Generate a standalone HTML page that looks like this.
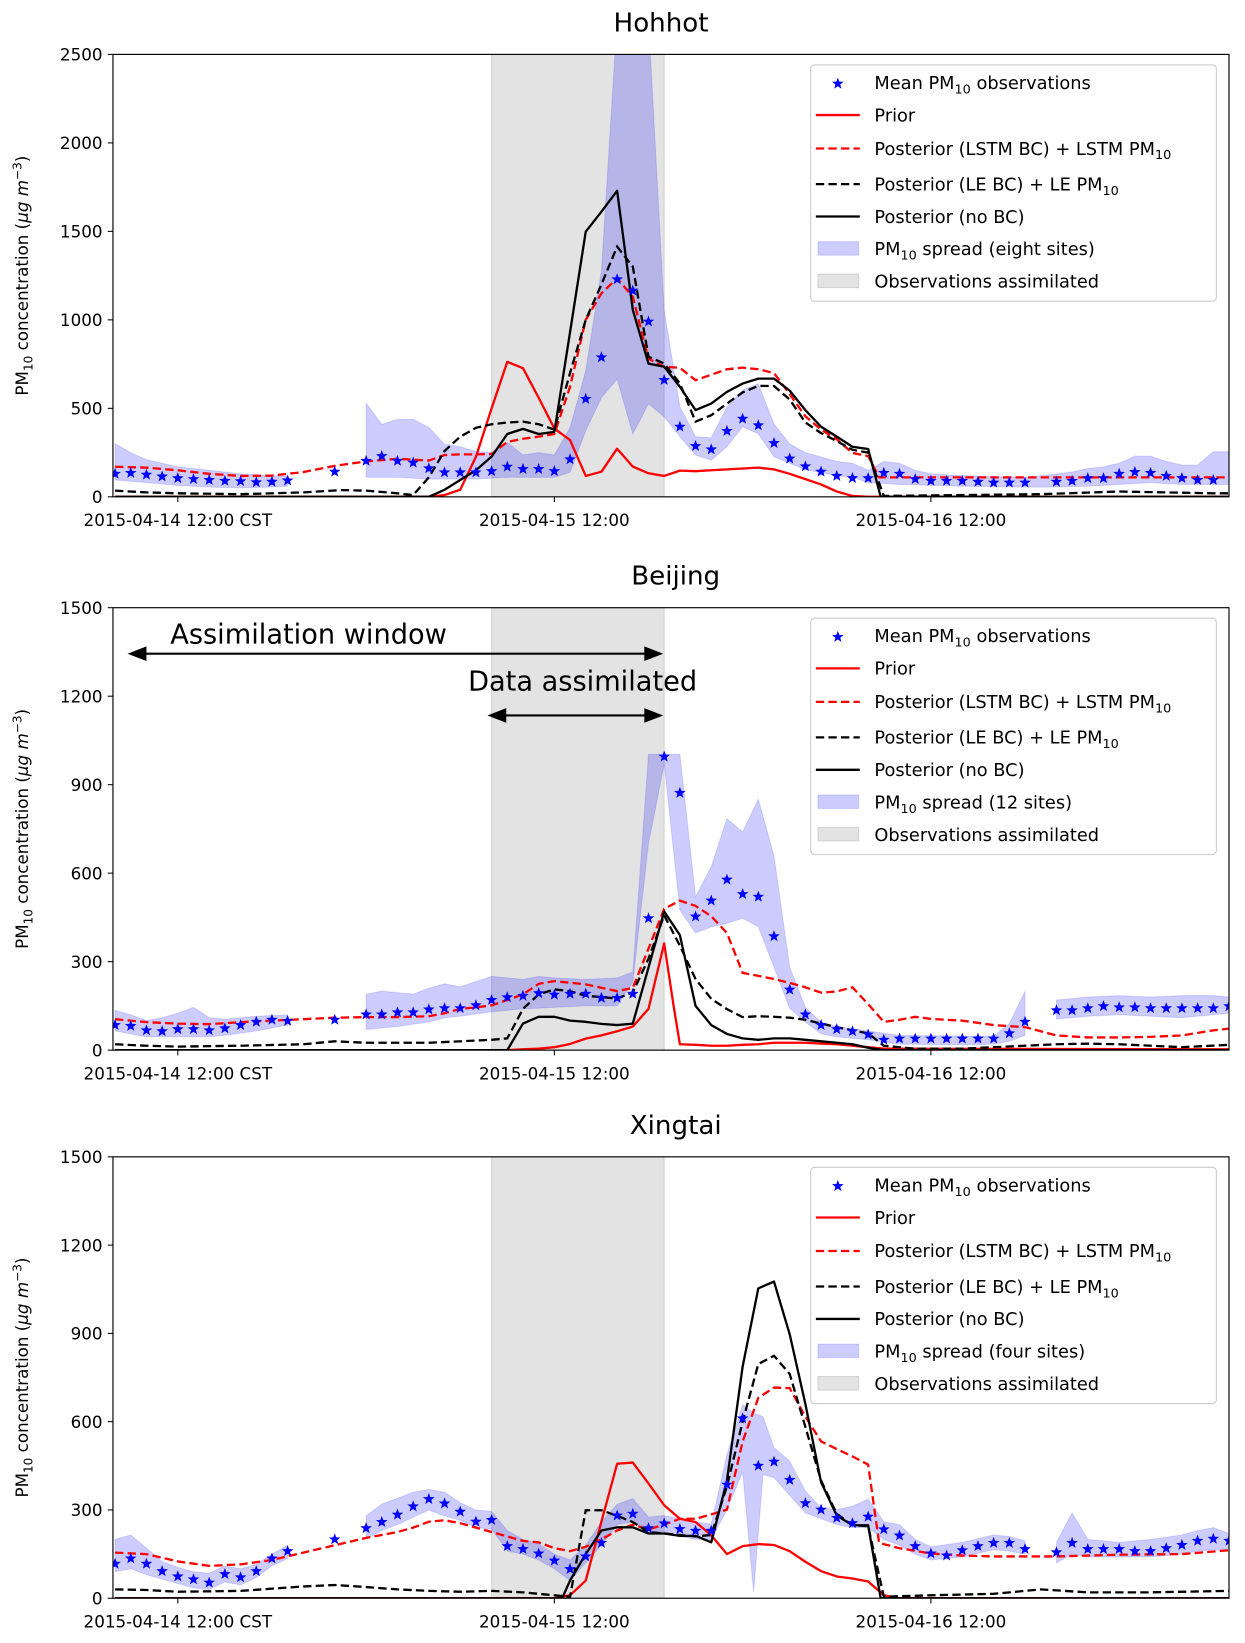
<!DOCTYPE html>
<html><head><meta charset="utf-8">
<style>
html,body{margin:0;padding:0;background:#fff;}
svg{display:block;}
text{font-family:"DejaVu Sans","Liberation Sans",sans-serif;fill:#000;}
</style></head>
<body>
<svg id="chart" xmlns="http://www.w3.org/2000/svg" width="1245" height="1643" viewBox="0 0 1190.3 1570.8" preserveAspectRatio="none"></svg>
<script>
// ---------- DATA (t = hours from 2015-04-14 12:00 CST; obs hourly from t=-4) ----------
const obsStart = -4;
const xTickHours = [0, 24, 48];
const xTickLabels = ["2015-04-14 12:00 CST", "2015-04-15 12:00", "2015-04-16 12:00"];
const assimStart = 20, assimEnd = 31;

// Hohhot
const hohObs = [130,135,125,115,105,100,95,90,88,82,85,92,null,null,142,null,
 203,230,203,193,161,138,138,138,145,170,157,157,145,212,553,788,1229,1165,990,660,396,287,268,372,441,404,304,216,172,142,118,106,
 105,135,130,100,90,90,90,85,80,80,80,null,85,90,105,105,130,140,135,118,106,95,95,null];
const hohBandT  = [-4,-3,-2,-1,0,2,4,6,7,null,12,13,14,15,16,17,18,19,20,21,22,23,24,25,26,27,28,29,30,31,32,33,34,35,36,37,38,39,40,41,42,43,44,45,46,47,48,50,52,54,56,57,58,59,60,61,62,63,64,65,66,67];
const hohBandHi = [300,250,210,190,170,150,130,120,115,null,530,410,438,438,392,298,283,257,250,307,237,250,237,392,713,1278,2700,2700,2700,1055,509,340,333,508,603,638,412,299,250,225,200,190,150,200,190,150,130,120,115,110,130,140,160,170,190,230,230,200,180,180,255,255];
const hohBandLo = [95,88,80,72,65,55,50,55,60,null,110,110,110,105,100,100,100,100,105,110,110,110,110,138,373,560,665,355,525,452,340,236,207,283,396,356,226,189,154,136,119,110,80,75,70,68,65,60,58,55,55,58,60,65,70,75,80,75,70,70,70,70];
const hohPriorT = [-4,16,17,18,19,20,21,22,23,24,25,26,27,28,29,30,31,32,33,34,35,36,37,38,39,40,41,42,43,44,67];
const hohPrior  = [0,0,10,40,226,500,763,727,560,386,321,118,142,272,171,133,118,148,145,150,155,160,165,155,130,100,70,30,5,0,0];
const hohLstmT = [-4,-2,0,2,4,6,8,10,12,14,16,17,18,19,20,21,22,23,24,25,26,27,28,29,30,31,32,33,34,35,36,37,38,39,40,41,42,43,44,44.7,45,67];
const hohLstm  = [170,165,150,130,118,120,140,175,200,215,205,236,240,240,242,310,328,340,355,622,1000,1150,1235,1130,781,735,729,659,690,721,730,721,699,580,455,380,325,248,230,110,110,110];
const hohLeT = [-4,-2,0,4,8,10.4,12,14,15,16,17,18,19,20,21,22,23,24,25,26,27,28,29,30,31,32,33,34,35,36,37,38,39,40,41,42,43,44,45,50,55,60,66,67];
const hohLe  = [35,25,20,15,25,38,35,20,10,110,259,340,390,410,420,425,410,380,700,1000,1200,1414,1301,792,753,641,425,461,527,590,627,626,550,420,360,315,266,250,5,10,15,30,20,20];
const hohNoT = [-4,16,17,18,19,20,21,22,23,24,25,26,27,28,29,30,31,32,33,34,35,36,37,38,39,40,41,42,43,44,44.8,67];
const hohNo  = [0,0,40,95,150,227,355,384,355,367,930,1498,1611,1729,1056,753,735,622,490,527,593,640,668,668,600,490,396,340,283,270,0,0];

// Beijing
const bjObs = [85,82,67,64,71,71,67,74,85,96,103,99,null,null,103,null,
 121,121,128,128,138,142,142,152,170,179,184,193,188,191,191,177,177,191,447,995,872,453,507,578,529,520,386,205,
 121,85,71,64,53,35,39,39,39,39,39,39,39,57,96,null,
 135,135,142,149,145,145,142,142,142,142,142,149];
const bjBandT  = [-4,-3,-2,-1,0,1,2,3,5,7,null,12,13,14,15,16,17,18,20,22,23,24,26,28,29,30,31,32,33,34,35,36,37,38,39,40,41,42,44,46,50,52,53,54,null,56,58,60,62,64,66,67];
const bjBandHi = [135,120,100,110,125,145,110,105,115,120,null,190,200,195,190,210,225,215,250,240,250,245,240,245,265,1003,1003,1003,520,622,785,740,851,658,281,145,95,80,65,50,48,48,90,200,null,170,180,185,180,185,185,180];
const bjBandLo = [65,55,45,45,45,45,45,50,65,85,null,70,75,80,88,95,110,115,130,140,142,145,150,150,230,700,970,475,397,418,430,447,418,281,142,95,55,45,35,20,18,20,30,50,null,105,115,120,115,110,120,125];
const bjPriorT = [-4,21,22,23,24,25,26,27,28,29,30,31,31.6,32,33,34,35,36,37,38,39,40,41,42,43,44,45,67];
const bjPrior  = [0,0,3,5,10,21,39,50,64,80,140,362,150,20,18,15,15,18,20,25,25,25,22,20,15,10,5,3];
const bjLstmT = [-4,-2,0,2,4,6,8,10,12,14,16,17,18,19,20,21,22,23,24,26,28,29,30,31,32,33,34,35,36,37,38,39,40,41,42,43,44,45,46,47,48,50,52,54,56,58,60,62,64,66,67];
const bjLstm  = [105,95,90,88,95,100,105,110,112,112,115,125,140,145,152,170,189,225,234,223,200,211,344,479,507,489,454,397,262,252,241,228,213,195,199,213,156,96,103,113,106,100,85,78,50,43,43,45,50,67,73];
const bjLeT = [-4,-2,0,4,8,10,12,16,20,21,22,23,24,25,26,27,28,29,30,31,32,33,34,35,36,37,38,39,40,41,42,43,44,45,47,50,52,56,58,60,64,67];
const bjLe  = [20,15,12,15,20,30,25,25,35,40,140,189,206,200,184,180,175,196,310,457,354,241,174,139,112,115,113,110,103,90,78,67,57,15,5,5,10,20,22,20,10,18];
const bjNoT = [-4,21,22,23,24,25,26,27,28,29,30,31,32,33,34,35,36,37,38,39,40,41,42,43,44,45,67];
const bjNo  = [0,0,90,113,113,100,96,89,85,90,280,470,390,150,85,55,40,35,40,40,35,30,25,20,8,0,0];

// Xingtai
const xtObs = [117,135,117,92,74,64,53,82,71,92,135,160,null,null,200,null,
 238,259,284,312,337,322,294,260,266,177,167,152,128,99,142,188,281,287,238,254,235,229,229,386,611,450,464,402,323,301,273,255,277,
 234,213,177,152,145,163,177,188,188,167,null,
 156,188,167,167,167,160,160,170,181,195,202,195];
const xtBandT  = [-4,-3,-2,-1,0,1,2,3,4,5,6,7,null,12,13,14,15,16,17,18,19,20,21,22,23,24,25,26,27,28,29,30,31,32,33,34,35,36,36.7,37.3,38,39,40,41,42,43,44,45,46,47,48,50,52,53,54,null,56,57,58,60,62,64,65,66,67];
const xtBandHi = [200,215,170,125,105,90,85,110,100,115,150,180,null,280,320,340,360,370,360,325,300,295,230,200,185,150,130,180,260,319,339,276,281,270,259,252,488,658,630,617,512,466,364,307,301,313,337,260,250,200,175,190,215,210,195,null,190,290,200,190,200,215,230,240,220];
const xtBandLo = [90,100,80,65,50,35,30,55,45,70,110,135,null,200,230,250,275,300,280,265,240,235,160,150,130,100,60,120,180,250,260,220,225,210,200,200,300,430,20,420,410,350,290,270,250,240,240,200,180,150,130,140,165,160,150,null,120,150,140,140,140,150,160,165,165];
const xtPriorT = [-4,24,25,26,27,28,29,30,31,32,33,34,35,36,37,38,39,40,41,42,43,44,45,46,67];
const xtPrior  = [0,0,10,60,260,457,461,390,316,270,259,214,150,177,184,181,160,124,92,74,67,57,10,0,0];
const xtLstmT = [-4,-2,0,2,4,6,8,10,12,14,15,16,17,18,19,20,21,22,23,24,25,26,27,28,29,30,31,32,33,34,35,36,37,38,39,40,41,42,43,44,44.7,46,48,50,52,54,56,60,64,67];
const xtLstm  = [155,150,125,110,115,130,155,180,205,225,240,260,265,255,240,225,210,195,190,170,160,175,200,230,250,234,250,270,270,285,301,533,681,716,714,617,533,507,482,454,188,170,152,145,142,142,142,148,150,163];
const xtLeT = [-4,-2,0,4,8,10,12,14,16,18,20,22,24,25,26,27,28,29,30,31,32,33,34,35,36,37,38,39,40,41,42,43,44,45,48,52,55,58,62,67];
const xtLe  = [30,28,22,25,40,45,38,30,25,22,25,20,10,5,299,299,280,259,225,220,215,210,215,380,600,796,824,762,582,400,287,248,245,5,10,15,30,20,20,25];
const xtNoT = [-4,24.5,25,26,27,28,29,30,31,32,33,34,35,36,37,38,39,40,41,42,43,44,44.8,67];
const xtNo  = [0,0,60,150,230,241,241,220,220,212,212,190,400,787,1053,1076,897,660,394,281,248,248,0,0];

const yTicksHoh = [0,500,1000,1500,2000,2500];
const yTicksBj  = [0,300,600,900,1200,1500];
const yTicksXt  = [0,300,600,900,1200,1500];

// ---------- RENDERING ----------
const NS = 'http://www.w3.org/2000/svg';
const svg = document.getElementById('chart');
function mk(tag, attrs, parent){ const e=document.createElementNS(NS,tag); for(const k in attrs) e.setAttribute(k, attrs[k]); (parent||svg).appendChild(e); return e; }
const X0 = 108, X1 = 1175;
const xs = t => 170 + 15*t;

function linePath(T, V, ys){
  let d='', pen=false;
  for(let i=0;i<T.length;i++){
    if(T[i]===null || V[i]===null){ pen=false; continue; }
    d += (pen?'L':'M') + xs(T[i]).toFixed(2) + ',' + ys(V[i]).toFixed(2);
    pen=true;
  }
  return d;
}
function bandPaths(T, lo, hi, ys){
  const segs=[]; let cur=[];
  for(let i=0;i<T.length;i++){
    if(T[i]===null){ if(cur.length) segs.push(cur); cur=[]; continue; }
    cur.push(i);
  }
  if(cur.length) segs.push(cur);
  return segs.map(s=>{
    let d='';
    s.forEach((i,k)=>{ d += (k?'L':'M') + xs(T[i]).toFixed(2)+','+ys(hi[i]).toFixed(2); });
    for(let k=s.length-1;k>=0;k--){ const i=s[k]; d += 'L'+xs(T[i]).toFixed(2)+','+ys(lo[i]).toFixed(2); }
    return d+'Z';
  });
}
function starPath(cx, cy, r){
  let d='';
  for(let i=0;i<10;i++){
    const rr = i%2? r*0.42 : r;
    const a = -Math.PI/2 + i*Math.PI/5;
    d += (i?'L':'M') + (cx+rr*Math.cos(a)).toFixed(2)+','+(cy+rr*Math.sin(a)).toFixed(2);
  }
  return d+'Z';
}
function addText(parent, x, y, parts, size, anchor){
  const t = mk('text', {x:x, y:y, 'font-size':size, 'text-anchor':anchor||'start'}, parent);
  parts.forEach(p=>{
    const s = mk('tspan', {}, t);
    if(p.sub){ s.setAttribute('font-size', size*0.72); s.setAttribute('dy', size*0.25); }
    if(p.sup){ s.setAttribute('font-size', size*0.72); s.setAttribute('dy', -size*0.4); }
    if(p.back){ s.setAttribute('dy', p.back); }
    if(p.it){ s.setAttribute('font-style','italic'); }
    s.textContent = p.s;
  });
  return t;
}

const panels = [
 {key:'hohhot', title:'Hohhot', titleX:632, top:52, bottom:475, ymax:2500, ticks:yTicksHoh, obs:hohObs,
  bT:hohBandT, bLo:hohBandLo, bHi:hohBandHi, pT:hohPriorT, p:hohPrior, lT:hohLstmT, l:hohLstm, eT:hohLeT, e:hohLe, nT:hohNoT, n:hohNo, sites:'(eight sites)'},
 {key:'beijing', title:'Beijing', titleX:646, top:581, bottom:1004, ymax:1500, ticks:yTicksBj, obs:bjObs,
  bT:bjBandT, bLo:bjBandLo, bHi:bjBandHi, pT:bjPriorT, p:bjPrior, lT:bjLstmT, l:bjLstm, eT:bjLeT, e:bjLe, nT:bjNoT, n:bjNo, sites:'(12 sites)'},
 {key:'xingtai', title:'Xingtai', titleX:646, top:1106, bottom:1528, ymax:1500, ticks:yTicksXt, obs:xtObs,
  bT:xtBandT, bLo:xtBandLo, bHi:xtBandHi, pT:xtPriorT, p:xtPrior, lT:xtLstmT, l:xtLstm, eT:xtLeT, e:xtLe, nT:xtNoT, n:xtNo, sites:'(four sites)'}
];

const defs = mk('defs', {});
panels.forEach((P, pi)=>{
  const ys = v => P.bottom - v*(P.bottom-P.top)/P.ymax;
  const g = mk('g', {});
  
  
  const cp = mk('clipPath', {id:'clip'+pi}, defs);
  mk('rect', {x:X0, y:P.top, width:X1-X0, height:P.bottom-P.top}, cp);

  const title = addText(g, P.titleX, P.top-22, [{s:P.title}], 25, 'middle');
  
  

  const plot = mk('g', {'clip-path':'url(#clip'+pi+')'}, g);
  const gray = mk('rect', {x:xs(assimStart), y:P.top, width:xs(assimEnd)-xs(assimStart), height:P.bottom-P.top, fill:'rgba(128,128,128,0.22)', stroke:'rgba(128,128,128,0.25)'}, plot);
  
  
  bandPaths(P.bT, P.bLo, P.bHi, ys).forEach(d=>{
    const b = mk('path', {d:d, fill:'rgba(0,0,255,0.2)', stroke:'rgba(0,0,255,0.12)', 'stroke-width':1}, plot);
    
    
  });
  const lp = mk('path', {d:linePath(P.pT, P.p, ys), fill:'none', stroke:'#ff0000', 'stroke-width':2.2, 'stroke-linejoin':'round'}, plot);
  
  
  const ll = mk('path', {d:linePath(P.lT, P.l, ys), fill:'none', stroke:'#ff0000', 'stroke-width':2.2, 'stroke-dasharray':'8,4'}, plot);
  
  
  const le = mk('path', {d:linePath(P.eT, P.e, ys), fill:'none', stroke:'#000', 'stroke-width':2.2, 'stroke-dasharray':'8,4'}, plot);
  
  
  const ln = mk('path', {d:linePath(P.nT, P.n, ys), fill:'none', stroke:'#000', 'stroke-width':2.2, 'stroke-linejoin':'round'}, plot);
  
  
  P.obs.forEach((v,i)=>{
    if(v===null) return;
    const s = mk('path', {d:starPath(xs(obsStart+i), ys(v), 5.8), fill:'#0000ff'}, plot);
    
    
  });
  const fr = mk('rect', {x:X0, y:P.top, width:X1-X0, height:P.bottom-P.top, fill:'none', stroke:'#000', 'stroke-width':1.1}, g);
  
  
  P.ticks.forEach(v=>{
    mk('line', {x1:X0-5, x2:X0, y1:ys(v), y2:ys(v), stroke:'#000', 'stroke-width':1}, g);
    const t = addText(g, X0-10, ys(v)+6, [{s:String(v)}], 16, 'end');
    
    
  });
  xTickHours.forEach((h,i)=>{
    mk('line', {x1:xs(h), x2:xs(h), y1:P.bottom, y2:P.bottom+5, stroke:'#000', 'stroke-width':1}, g);
    const t = addText(g, xs(h), P.bottom+28, [{s:xTickLabels[i]}], 16, 'middle');
    
    
  });
  const cy = (P.top+P.bottom)/2;
  const yl = addText(g, 0, 0, [{s:'PM'},{s:'10',sub:true},{s:' concentration (',back:-16*0.25},{s:'μg m',it:true},{s:'−3',sup:true},{s:')',back:16*0.4}], 16, 'middle');
  yl.setAttribute('transform', 'translate(27,'+cy+') rotate(-90)');
  
  

  const lg = mk('g', {}, g);
  
  
  mk('rect', {x:775, y:P.top+10, width:388, height:226, rx:4, fill:'rgba(255,255,255,0.85)', stroke:'#d0d0d0', 'stroke-width':1.2}, lg);
  const rows = [27,58,90,124,155,186,217].map(o=>P.top+o);
  const fs = 17;
  const labels = [
    [{s:'Mean PM'},{s:'10',sub:true},{s:' observations',back:-fs*0.25}],
    [{s:'Prior'}],
    [{s:'Posterior (LSTM BC) + LSTM PM'},{s:'10',sub:true}],
    [{s:'Posterior (LE BC) + LE PM'},{s:'10',sub:true}],
    [{s:'Posterior (no BC)'}],
    [{s:'PM'},{s:'10',sub:true},{s:' spread '+P.sites,back:-fs*0.25}],
    [{s:'Observations assimilated'}]
  ];
  mk('path', {d:starPath(801, rows[0]+1, 5.8), fill:'#0000ff'}, lg);
  mk('line', {x1:780, x2:822, y1:rows[1], y2:rows[1], stroke:'#ff0000', 'stroke-width':2.2}, lg);
  mk('line', {x1:780, x2:822, y1:rows[2], y2:rows[2], stroke:'#ff0000', 'stroke-width':2.2, 'stroke-dasharray':'8,4'}, lg);
  mk('line', {x1:780, x2:822, y1:rows[3], y2:rows[3], stroke:'#000', 'stroke-width':2.2, 'stroke-dasharray':'8,4'}, lg);
  mk('line', {x1:780, x2:822, y1:rows[4], y2:rows[4], stroke:'#000', 'stroke-width':2.2}, lg);
  mk('rect', {x:782, y:rows[5]-7, width:39, height:13, fill:'rgba(0,0,255,0.2)', stroke:'rgba(0,0,255,0.12)'}, lg);
  mk('rect', {x:782, y:rows[6]-7, width:39, height:13, fill:'rgba(128,128,128,0.22)', stroke:'rgba(128,128,128,0.25)'}, lg);
  labels.forEach((parts,i)=>{
    const t = addText(lg, 836, rows[i]+6, parts, fs, 'start');
    
    
  });
});

function arrow(x1, x2, y, name){
  const g = mk('g', {});
  
  
  mk('line', {x1:x1+12, x2:x2-12, y1:y, y2:y, stroke:'#000', 'stroke-width':2}, g);
  mk('path', {d:`M${x1},${y}L${x1+18},${y-7}L${x1+18},${y+7}Z`, fill:'#000'}, g);
  mk('path', {d:`M${x2},${y}L${x2-18},${y-7}L${x2-18},${y+7}Z`, fill:'#000'}, g);
}
arrow(122, 634, 625, 'assimilation-window-arrow');
arrow(466, 634, 684, 'data-assimilated-arrow');
const a1 = addText(svg, 295, 615, [{s:'Assimilation window'}], 26, 'middle');


const a2 = addText(svg, 557, 660, [{s:'Data assimilated'}], 26, 'middle');


</script>
</body></html>
